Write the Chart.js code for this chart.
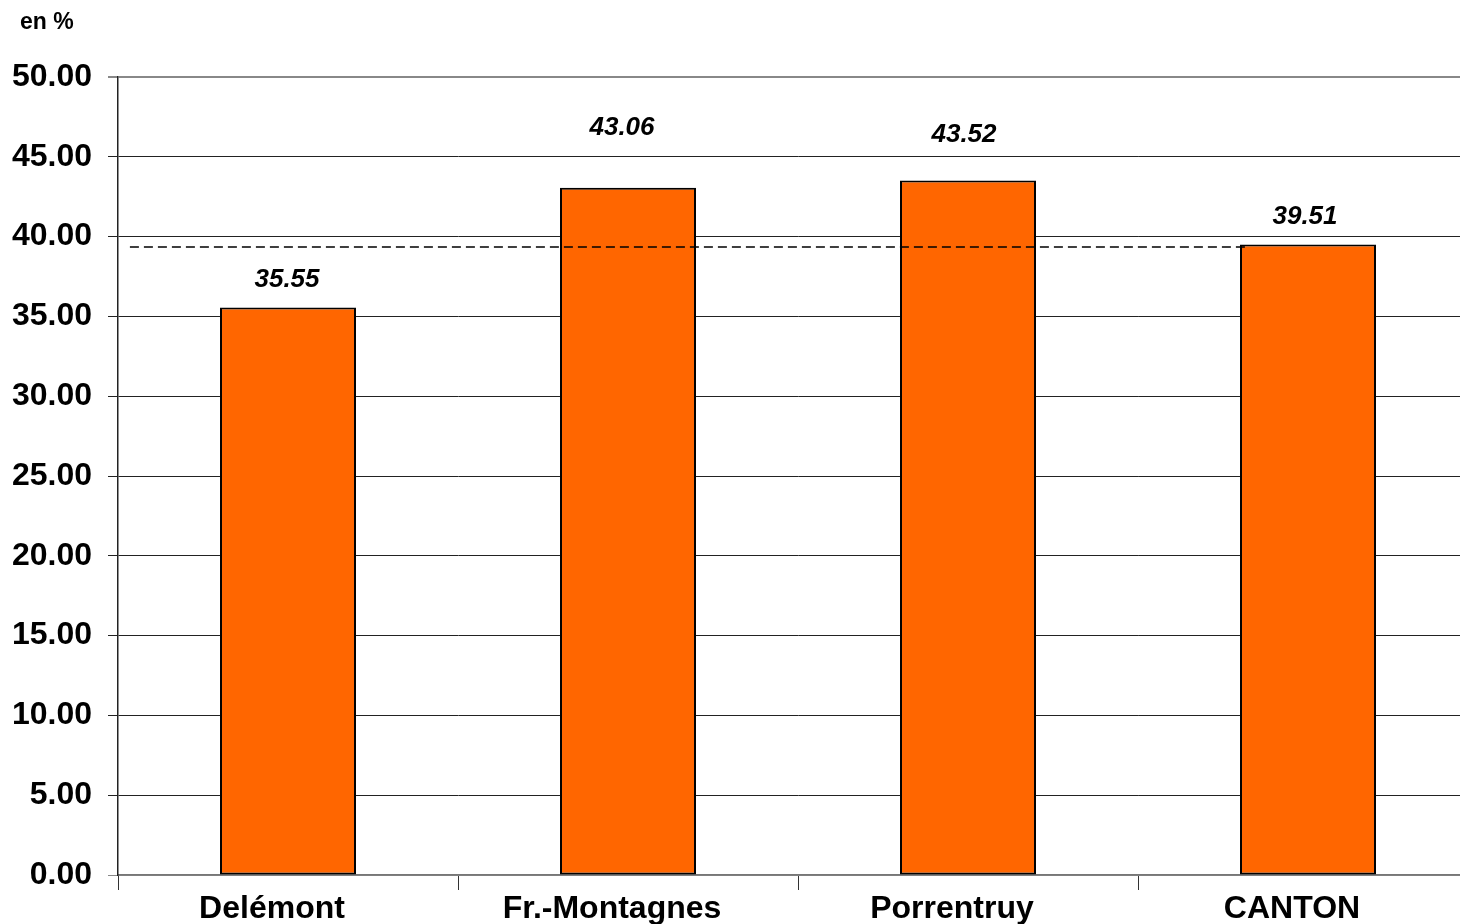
<!DOCTYPE html>
<html>
<head>
<meta charset="utf-8">
<script src="https://cdn.jsdelivr.net/npm/chart.js@4/dist/chart.umd.min.js"></script>
<style>
  html, body { margin: 0; padding: 0; background: #fff; overflow: hidden; }
  #wrap { width: 1480px; height: 924px; }
</style>
</head>
<body>
<div id="wrap"><canvas id="chart" width="1480" height="924"></canvas></div>
<script>
// données du graphique
const regions = ['Delémont', 'Fr.-Montagnes', 'Porrentruy', 'CANTON'];
const taux = [35.55, 43.06, 43.52, 39.51];
const unitLabel = 'en %';
// ligne pointillée (moyenne) : début / fin en unités de catégories
const refValue = 39.35;
const refSpan = [0.035, 3.32];

const FONT = '"Liberation Sans", Arial, sans-serif';

// étiquettes de valeur au-dessus des barres + "en %"
const valueLabels = {
    id: 'valueLabels',
    afterDatasetsDraw: (chart, args, opts) => {
        const ctx = chart.ctx;
        const meta = chart.getDatasetMeta(0);
        ctx.save();
        ctx.fillStyle = '#000';
        ctx.textAlign = 'center';
        ctx.textBaseline = 'middle';
        ctx.font = 'italic bold 26px ' + FONT;
        meta.data.forEach((bar, i) => {
            ctx.fillText(taux[i].toFixed(2), bar.x + opts.dx[i], bar.y - opts.lift[i]);
        });
        ctx.textAlign = 'left';
        ctx.font = 'bold 23px ' + FONT;
        ctx.fillText(unitLabel, 20, 23);
        ctx.restore();
    }
};

const ctx = document.getElementById('chart').getContext('2d');
new Chart(ctx, {
    type: 'bar',
    data: {
        labels: regions,
        datasets: [
            {
                data: taux,
                xAxisID: 'x',
                yAxisID: 'y',
                backgroundColor: '#FF6600',
                borderColor: '#000',
                borderWidth: 2,
                borderSkipped: false,
                categoryPercentage: 1,
                barPercentage: 0.4,
                grouped: false,
                order: 1
            },
            {
                type: 'line',
                data: refSpan.map(x => ({ x: x, y: refValue })),
                xAxisID: 'xLine',
                yAxisID: 'y',
                borderColor: '#000',
                borderWidth: 1.5,
                borderDash: [9, 5],
                pointRadius: 0,
                fill: false,
                order: 0
            }
        ]
    },
    options: {
        responsive: false,
        animation: false,
        devicePixelRatio: 1,
        layout: { padding: { top: 77, left: 0, right: 2, bottom: 0 } },
        plugins: {
            legend: { display: false },
            tooltip: { enabled: false },
            valueLabels: { lift: [28, 60, 46, 28], dx: [-1, -6, -4, -3] }
        },
        scales: {
            x: {
                offset: true,
                grid: { drawOnChartArea: false, drawTicks: true, tickLength: 15, color: '#333', offset: true },
                border: { color: '#777', width: 1.5 },
                ticks: {
                    color: '#000',
                    font: { family: FONT, size: 32, weight: 'bold' },
                    padding: 0,
                    labelOffset: -16,
                    maxRotation: 0
                },
                afterFit: s => { s.height = 49; }
            },
            xLine: {
                type: 'linear',
                display: false,
                offset: false,
                min: 0,
                max: 4
            },
            y: {
                min: 0,
                max: 50,
                ticks: {
                    stepSize: 5,
                    color: '#000',
                    padding: 16,
                    font: { family: FONT, size: 32, weight: 'bold' },
                    callback: v => Number(v).toFixed(2)
                },
                grid: {
                    color: c => (c.tick && (c.tick.value === 50 || c.tick.value === 0)) ? '#888' : '#222',
                    lineWidth: c => (c.tick && c.tick.value === 50) ? 2 : 1,
                    tickLength: 10
                },
                border: { color: '#222', width: 1.5 },
                afterFit: s => { s.width = 118; }
            }
        }
    },
    plugins: [valueLabels]
});
</script>
</body>
</html>
